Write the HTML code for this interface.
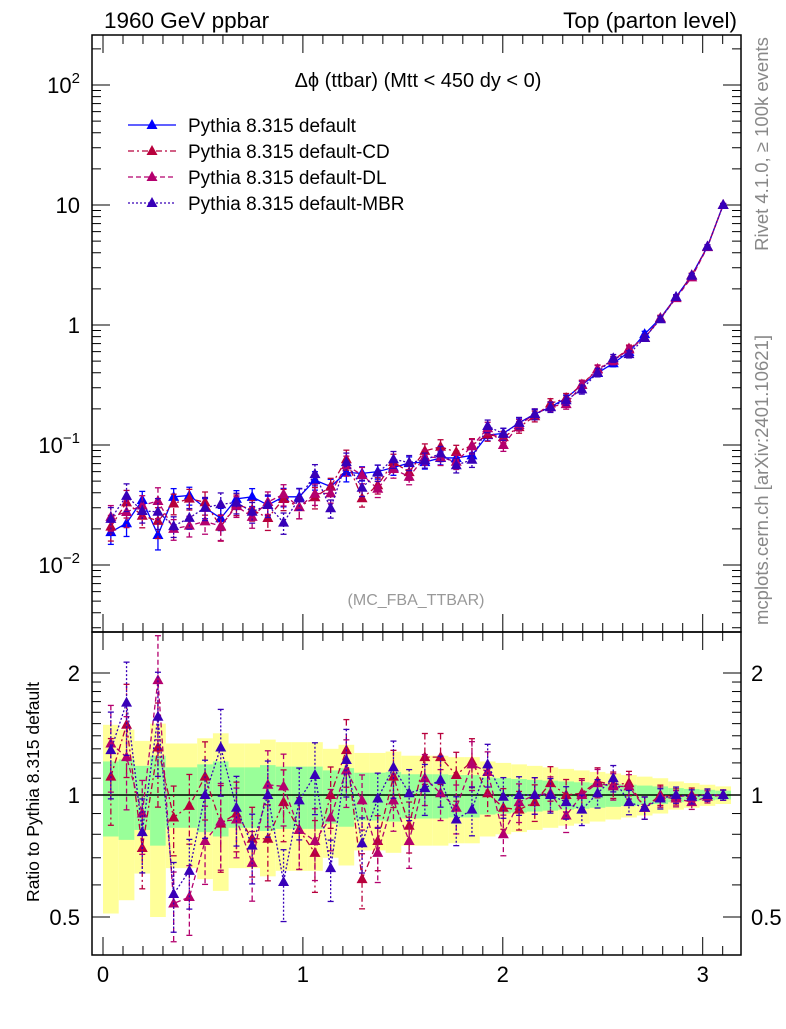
<!DOCTYPE html>
<html><head><meta charset="utf-8"><style>
body{margin:0;background:#fff;width:786px;height:1024px;overflow:hidden}
svg{font-family:"Liberation Sans",sans-serif}
</style></head><body>
<svg id="chart" width="786" height="1024" xmlns="http://www.w3.org/2000/svg">
<g id="bands"></g>
<g id="axes"></g>
<g id="series"></g>
<text x="104" y="28" font-size="22.5">1960 GeV ppbar</text>
<text x="737" y="28" font-size="22.5" text-anchor="end">Top (parton level)</text>
<text x="418" y="87" font-size="20" text-anchor="middle">Δϕ (ttbar) (Mtt &lt; 450 dy &lt; 0)</text>
<text x="416" y="605" font-size="16" fill="#999" text-anchor="middle">(MC_FBA_TTBAR)</text>
<text transform="translate(768,144) rotate(-90)" font-size="18.5" fill="#888" text-anchor="middle">Rivet 4.1.0, ≥ 100k events</text>
<text transform="translate(768,480) rotate(-90)" font-size="18.5" fill="#888" text-anchor="middle">mcplots.cern.ch [arXiv:2401.10621]</text>
<text transform="translate(39,792) rotate(-90)" font-size="17.5" text-anchor="middle">Ratio to Pythia 8.315 default</text>
<g id="legend"></g>
</svg>
<script>
const categories=[];for(let i=0;i<40;i++)categories.push((i+0.5)*Math.PI/40);
const defaultVals=[0.0188,0.0223,0.0348,0.0178,0.037,0.038,0.030,0.0245,0.0356,0.037,0.0316,0.037,0.037,0.051,0.045,0.059,0.058,0.060,0.065,0.0707,0.072,0.078,0.078,0.082,0.121,0.125,0.153,0.181,0.207,0.246,0.316,0.398,0.48,0.595,0.84,1.14,1.71,2.6,4.5,10];
const ratioCD=[1.11,1.49,0.74,1.31,0.88,0.94,1.11,0.85,0.90,0.78,0.78,0.96,0.82,0.72,1.0,1.29,0.62,0.77,1.11,0.84,1.24,1.24,1.12,1.21,1.01,0.93,0.92,0.96,1.07,1.0,1.01,1.08,1.06,1.07,0.93,1.0,0.99,1.0,1.0,1.0];
const ratioDL=[1.34,1.24,0.90,1.92,0.54,0.56,0.77,0.86,0.87,0.68,1.06,1.05,0.82,0.77,0.88,1.15,0.97,0.72,0.97,0.77,1.1,1.01,0.93,1.19,1.14,0.80,0.96,1.0,1.01,0.89,1.0,1.07,1.05,1.05,0.93,0.99,0.98,0.96,0.99,1.0];
const ratioMBR=[1.29,1.69,0.81,1.56,0.57,0.65,1.0,1.31,0.93,0.75,1.0,0.61,0.97,1.12,0.66,1.22,0.76,0.98,1.17,1.01,1.04,1.09,0.87,0.92,1.19,0.99,1.0,1.0,1.0,0.96,0.92,1.01,1.10,0.96,0.93,0.98,1.0,0.99,1.0,1.0];
const relErr=[0.21,0.225,0.18,0.25,0.17,0.17,0.19,0.21,0.17,0.17,0.185,0.175,0.175,0.175,0.15,0.165,0.135,0.135,0.14,0.125,0.125,0.125,0.12,0.12,0.105,0.10,0.095,0.09,0.085,0.08,0.075,0.07,0.065,0.06,0.055,0.05,0.04,0.035,0.03,0.025];
const yellowErr=[0.49,0.45,0.36,0.5,0.34,0.34,0.38,0.42,0.34,0.34,0.37,0.35,0.35,0.35,0.30,0.33,0.27,0.27,0.28,0.25,0.25,0.25,0.24,0.24,0.21,0.20,0.19,0.18,0.17,0.16,0.15,0.14,0.13,0.12,0.11,0.10,0.08,0.07,0.06,0.05];
const yTickLabels=["10^-2","10^-1","1","10","10^2"];
const ratioTickLabels=["0.5","1","2"];
const xTickLabels=["0","1","2","3"];

const NS="http://www.w3.org/2000/svg";
const X0=92,X1=741,M0=35,M1=632,R1=955;
const xs=v=>103+v*199.9;
const ym=v=>325-120*Math.log10(v);
const yr=v=>795-122*Math.log2(v);
function mk(tag,attrs,parent){const e=document.createElementNS(NS,tag);for(const k in attrs)e.setAttribute(k,attrs[k]);parent.appendChild(e);return e;}
const axes=document.getElementById('axes'),bands=document.getElementById('bands'),ser=document.getElementById('series');
const bw=Math.PI/40;
categories.forEach((c,i)=>{
 const e=relErr[i],ye=yellowErr[i],xa=xs(c-bw/2),xb=xs(c+bw/2);
 const yb=mk('rect',{x:xa,width:xb-xa,y:yr(1+ye),height:Math.min(yr(Math.max(1-ye,0.3)),R1)-yr(1+ye),fill:'#ffff99'},bands);
 
 
 const gb=mk('rect',{x:xa,width:xb-xa,y:yr(1+e),height:yr(1-e)-yr(1+e),fill:'#99ff99'},bands);
 
 
});
mk('line',{x1:X0,x2:X1,y1:yr(1),y2:yr(1),stroke:'#000','stroke-width':1.5},axes);
mk('rect',{x:X0,y:M0,width:X1-X0,height:M1-M0,fill:'none',stroke:'#000','stroke-width':1.5},axes);
mk('rect',{x:X0,y:M1,width:X1-X0,height:R1-M1,fill:'none',stroke:'#000','stroke-width':1.5},axes);
for(let d=-3;d<=2;d++)for(let m=1;m<10;m++){const v=m*Math.pow(10,d);const y=ym(v);if(y<M0||y>M1)continue;const L=m==1?18:9;
 mk('line',{x1:X0,x2:X0+L,y1:y,y2:y,stroke:'#000'},axes);mk('line',{x1:X1-L,x2:X1,y1:y,y2:y,stroke:'#000'},axes);}
[0.01,0.1,1,10,100].forEach((v,i)=>{const lab=yTickLabels[i];const t=mk('text',{x:80,y:ym(v)+8,'font-size':22,'text-anchor':'end'},axes);
 
 
 if(lab.includes('^')){const [b,p]=lab.split('^');t.textContent=b;const s=mk('tspan',{dy:-10,'font-size':15},t);s.textContent=p.replace('-','−');}else t.textContent=lab;});
[0.4,0.5,0.6,0.7,0.8,0.9,1,2].forEach(v=>{const y=yr(v);if(y>R1)return;const L=(v==0.5||v==1||v==2)?18:9;
 mk('line',{x1:X0,x2:X0+L,y1:y,y2:y,stroke:'#000'},axes);mk('line',{x1:X1-L,x2:X1,y1:y,y2:y,stroke:'#000'},axes);});
for(let v=1.1;v<2;v+=0.1){const y=yr(v);mk('line',{x1:X0,x2:X0+9,y1:y,y2:y,stroke:'#000'},axes);mk('line',{x1:X1-9,x2:X1,y1:y,y2:y,stroke:'#000'},axes);}
[0.5,1,2].forEach((v,i)=>{[80,751].forEach(xx=>{const t=mk('text',{x:xx,y:yr(v)+8,'font-size':22,'text-anchor':xx<100?'end':'start'},axes);t.textContent=ratioTickLabels[i];
 
 });});
for(let k=0;k<=31;k++){const v=k*0.1,x=xs(v);if(x>X1)break;const L=k%10==0?18:9;
 [[M1,M1+L],[M1,M1-L],[M0,M0+L],[R1,R1-L]].forEach(([a,b])=>mk('line',{x1:x,x2:x,y1:a,y2:b,stroke:'#000'},axes));}
[0,1,2,3].forEach((v,i)=>{const t=mk('text',{x:xs(v),y:982,'font-size':22,'text-anchor':'middle'},axes);t.textContent=xTickLabels[i];
 
 });
function tri(g,x,y,col){mk('polygon',{points:`${x},${y-6} ${x-5.5},${y+4} ${x+5.5},${y+4}`,fill:col},g);}
function drawSeries(name,col,dash,vals,errs,yf,clip){
 const g=mk('g',{},ser);
 const pts=vals.map((v,i)=>[xs(categories[i]),yf(v)]);
 mk('polyline',{points:pts.map(p=>p.join(',')).join(' '),fill:'none',stroke:col,'stroke-width':1.3,'stroke-dasharray':dash},g);
 vals.forEach((v,i)=>{const x=pts[i][0];const hi=yf(v*(1+errs[i])),lo=yf(Math.max(v*(1-errs[i]),1e-6));
  mk('line',{x1:x,x2:x,y1:Math.max(hi,clip[0]),y2:Math.min(lo,clip[1]),stroke:col,'stroke-width':1.3,'stroke-dasharray':dash},g);
  mk('line',{x1:x-3,x2:x+3,y1:hi,y2:hi,stroke:col,'stroke-width':1.3},g);mk('line',{x1:x-3,x2:x+3,y1:lo,y2:lo,stroke:col,'stroke-width':1.3},g);
  tri(g,x,pts[i][1],col);});
}
const cols={def:'#0000ff',cd:'#b8003c',dl:'#b4006e',mbr:'#3800b8'};
const dash={def:'',cd:'6,3,2,3',dl:'5,3',mbr:'2,2'};
const errsR=relErr.map(e=>e*1.15);
const mainClip=[M0,M1],rClip=[M1,R1];
drawSeries('series-default-main',cols.def,dash.def,defaultVals,relErr,ym,mainClip);
[['cd',ratioCD],['dl',ratioDL],['mbr',ratioMBR]].forEach(([k,r])=>{
 drawSeries('series-'+k+'-main',cols[k],dash[k],defaultVals.map((v,i)=>v*r[i]),errsR,ym,mainClip);
 drawSeries('series-'+k+'-ratio',cols[k],dash[k],r,errsR,yr,rClip);});
const lg=document.getElementById('legend');
[['Pythia 8.315 default','def'],['Pythia 8.315 default-CD','cd'],['Pythia 8.315 default-DL','dl'],['Pythia 8.315 default-MBR','mbr']].forEach(([lab,k],i)=>{
 const y=125+i*26;const g=mk('g',{},lg);
 
 
 mk('line',{x1:128,x2:176,y1:y,y2:y,stroke:cols[k],'stroke-width':1.3,'stroke-dasharray':dash[k]},g);
 tri(g,152,y,cols[k]);
 const t=mk('text',{x:188,y:y+7,'font-size':19},g);t.textContent=lab;});
</script>
</body></html>
